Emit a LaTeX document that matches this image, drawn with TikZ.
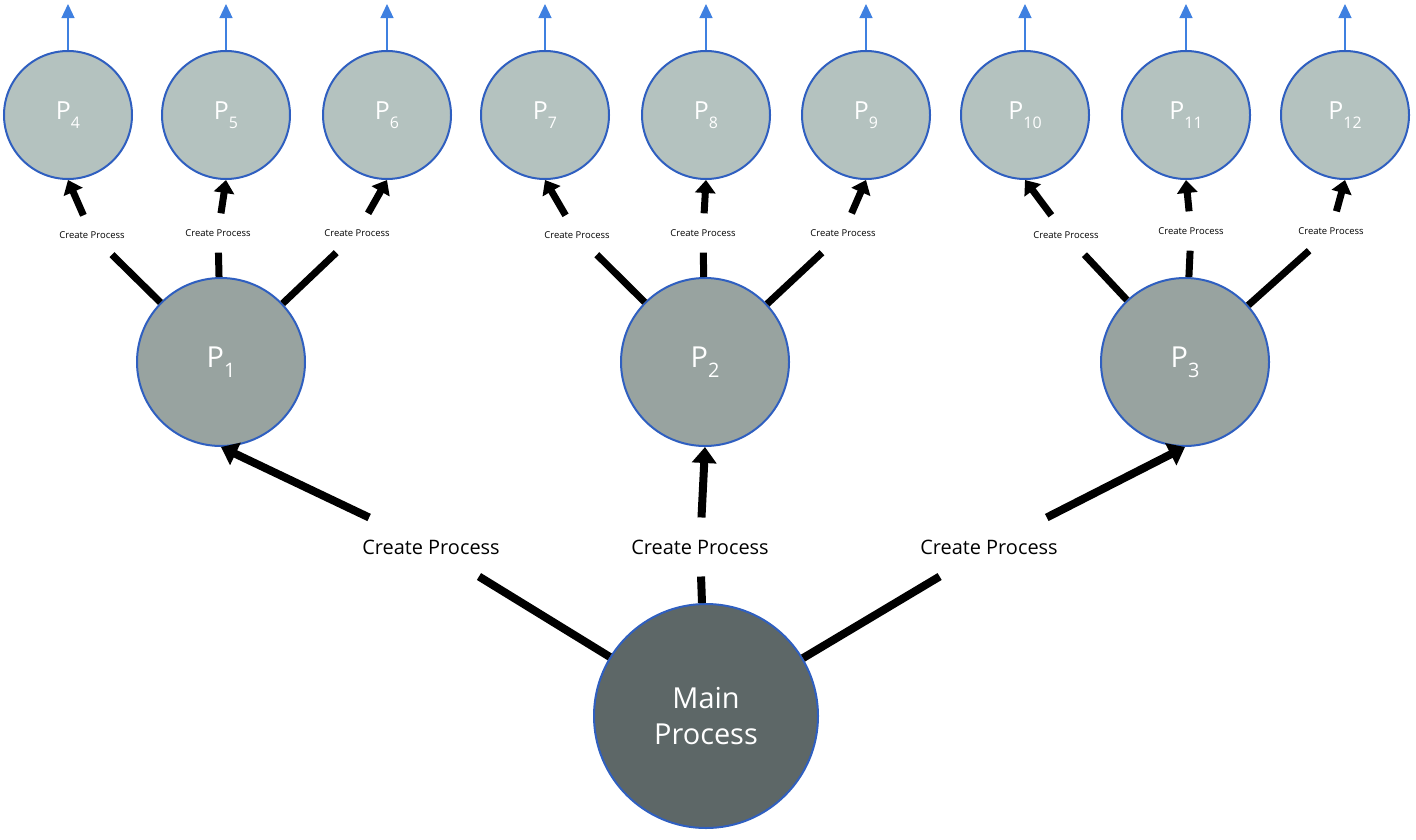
\documentclass[tikz,border=0pt]{standalone}
\usepackage{fontspec}
\setmainfont{Open Sans}
\usetikzlibrary{arrows.meta}
\definecolor{bord}{HTML}{2F5FC0}
\definecolor{smallf}{HTML}{B4C2BF}
\definecolor{midf}{HTML}{98A3A0}
\definecolor{mainf}{HTML}{5D6767}
\definecolor{blu}{HTML}{3F80E0}
\newcommand{\sbs}[1]{\raisebox{-0.35em}{\fontsize{16}{18}\selectfont #1}}
\newcommand{\sbm}[1]{\raisebox{-0.35em}{\fontsize{20}{24}\selectfont #1}}
\begin{document}
\begin{tikzpicture}[x=1bp,y=-1bp,
 small/.style={circle,draw=bord,line width=2bp,fill=smallf,minimum size=128bp,inner sep=0,text=white,font=\fontsize{25}{28}\selectfont},
 mid/.style={circle,draw=bord,line width=2bp,fill=midf,minimum size=168bp,inner sep=0,text=white,font=\fontsize{29}{32}\selectfont},
 mainc/.style={circle,draw=bord,line width=2bp,fill=mainf,minimum size=224bp,inner sep=0,text=white,align=center,font=\fontsize{29}{36}\selectfont},
 slab/.style={font=\fontsize{9.5}{11}\selectfont,inner xsep=0,inner ysep=16bp},
 blab/.style={font=\fontsize{20}{24}\selectfont,inner xsep=0,inner ysep=22bp},
 conn/.style={line width=8bp},
 arr/.style={line width=8bp,-{Triangle[length=16bp,width=24bp]}},
 carr/.style={line width=7bp,-{Triangle[length=13bp,width=20bp]}},
 up/.style={blu,line width=1.2bp,-{Triangle[length=14bp,width=13bp]}}]
\useasboundingbox (0,0) rectangle (1416,839);
\node[mainc] (M) at (706,716) {Main\\Process};
\node[mid] (P1) at (221,362) {P\sbm{1}};
\node[mid] (P2) at (705,362) {P\sbm{2}};
\node[mid] (P3) at (1185,362) {P\sbm{3}};
\foreach \n/\x in {4/68,5/226,6/387,7/545,8/706,9/866,10/1025,11/1186,12/1345}{
  \node[small] (P\n) at (\x,115) {P\sbs{\n}};
  \coordinate (T\n) at (\x,4);
  \draw[up] (P\n.north) -- (T\n);
}
\node[blab] (L1) at (431,547) {Create Process};
\node[blab] (L2) at (700,547) {Create Process};
\node[blab] (L3) at (989,547) {Create Process};
\draw[conn] (M) -- (L1); \draw[arr] (L1) -- (P1.south);
\draw[conn] (M) -- (L2); \draw[arr] (L2) -- (P2.south);
\draw[conn] (M) -- (L3); \draw[arr] (L3) -- (P3.south);
\foreach \p/\c/\x/\y in {P1/P4/92/235, P1/P5/218/233, P1/P6/357/233,
  P2/P7/577/235, P2/P8/703/233, P2/P9/843/233,
  P3/P10/1066/235, P3/P11/1191/231, P3/P12/1331/231}{
  \node[slab] (S\c) at (\x,\y) {Create Process};
  \draw[conn,line width=7bp] (\p) -- (S\c);
  \draw[carr] (S\c) -- (\c.south);
}
\end{tikzpicture}
\end{document}
